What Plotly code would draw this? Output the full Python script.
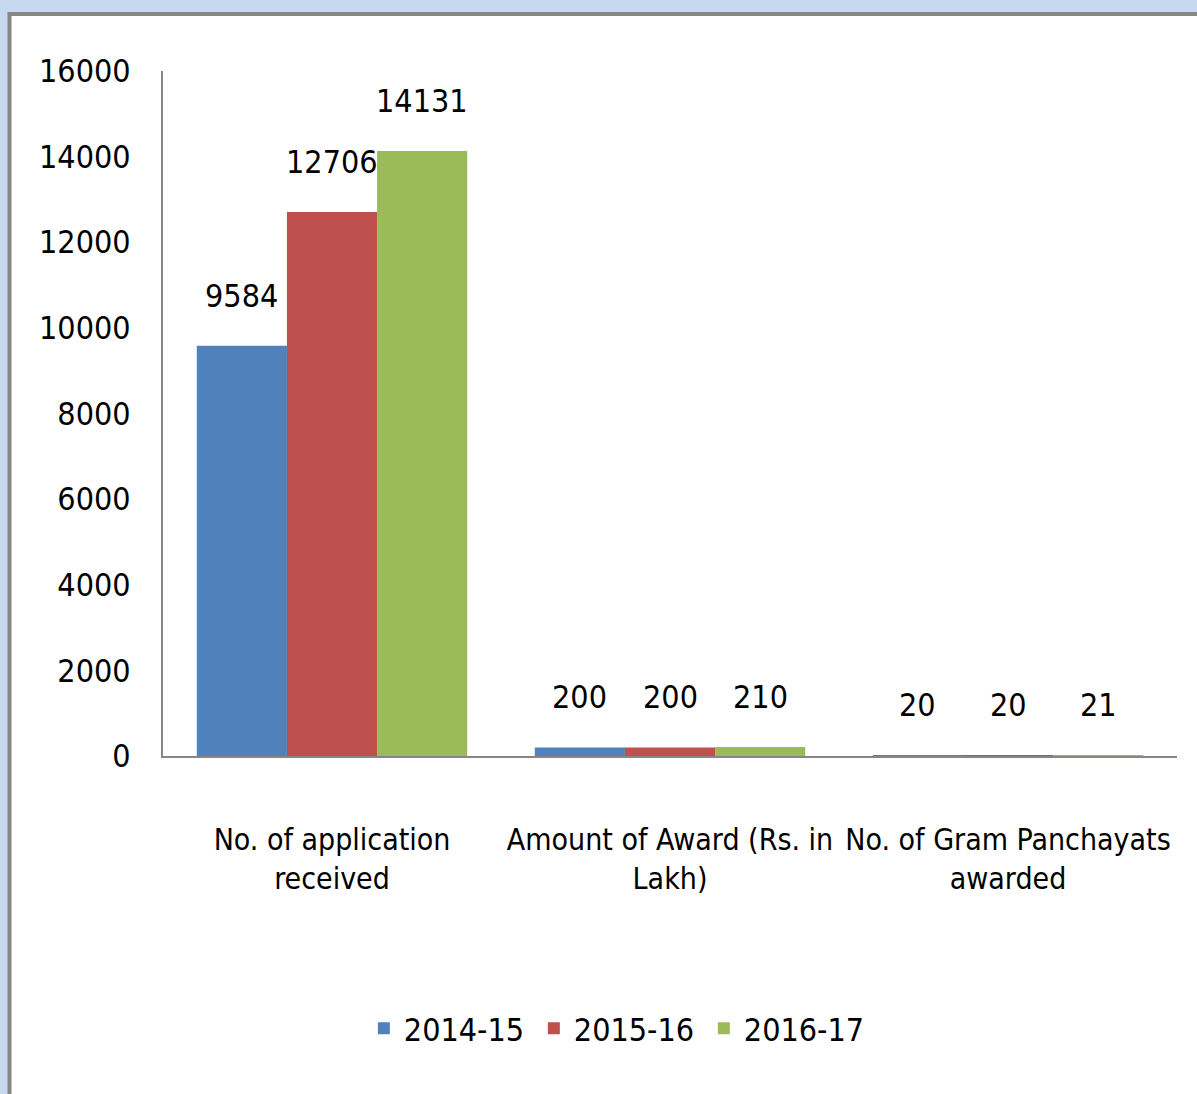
import plotly.graph_objects as go

categories = ["No. of application received",
              "Amount of Award (Rs. in Lakh)",
              "No. of Gram Panchayats awarded"]
tick_labels = ["No. of application<br>received",
               "Amount of Award (Rs. in<br>Lakh)",
               "No. of Gram Panchayats<br>awarded"]
series_names = ["2014-15", "2015-16", "2016-17"]
values_2014_15 = [9584, 200, 20]
values_2015_16 = [12706, 200, 20]
values_2016_17 = [14131, 210, 21]
series_values = [values_2014_15, values_2015_16, values_2016_17]
colors = ["#4F81BD", "#C0504D", "#9BBB59"]
y_ticks = [0, 2000, 4000, 6000, 8000, 10000, 12000, 14000, 16000]

FONT = "DejaVu Sans Condensed, DejaVu Sans"
FS = 32

W, H = 1197, 1094
ML, MR, MT, MB = 163, 20, 71, 338
plot_w = W - ML - MR
plot_h = H - MT - MB

fig = go.Figure()
for name, vals, col in zip(series_names, series_values, colors):
    fig.add_trace(go.Bar(name=name, x=list(range(len(categories))), y=vals,
                         marker=dict(color=col, line=dict(width=0))))

bargap = 0.2
bar_w = (1 - bargap) / len(series_names)
font = dict(family=FONT, size=FS, color="#000000")
xfont = dict(family=FONT, size=30, color="#000000")
annotations = []
for i, vals in enumerate(series_values):
    for j, v in enumerate(vals):
        annotations.append(dict(
            x=j + (i - 1) * bar_w, y=v, xref="x", yref="y",
            text=str(v), showarrow=False, yanchor="middle", yshift=50,
            font=font))

def px_to_paper_x(px):
    return (px - ML) / plot_w

def px_to_paper_y(py):
    return (H - MB - py) / plot_h

shapes = [dict(type="rect", xref="paper", yref="paper",
               x0=px_to_paper_x(9.5), x1=px_to_paper_x(1230),
               y0=px_to_paper_y(1130), y1=px_to_paper_y(14),
               fillcolor="white", line=dict(color="#868686", width=4),
               layer="below")]

fig.update_layout(
    width=W, height=H,
    margin=dict(l=ML, r=MR, t=MT, b=MB, pad=0),
    paper_bgcolor="#C6D9F1",
    plot_bgcolor="rgba(0,0,0,0)",
    barmode="group", bargap=bargap, bargroupgap=0,
    font=font,
    shapes=shapes,
    annotations=annotations,
    showlegend=True,
    legend=dict(orientation="h", xref="container", yref="container",
                x=0.517, y=0.06, xanchor="center", yanchor="middle",
                font=font,
                bgcolor="rgba(0,0,0,0)", entrywidth=125, entrywidthmode="pixels",
                itemwidth=30),
    xaxis=dict(tickmode="array", tickvals=list(range(len(categories))),
               ticktext=tick_labels, tickangle=0, tickfont=xfont,
               range=[-0.5, len(categories) - 0.5],
               showline=True, linecolor="#868686", linewidth=2,
               showgrid=False, zeroline=False, ticks="",
               ticklabelstandoff=56),
    yaxis=dict(range=[0, 16000], tickmode="array", tickvals=y_ticks,
               ticktext=[str(t) for t in y_ticks], tickfont=font,
               showline=True, linecolor="#868686", linewidth=2,
               showgrid=False, zeroline=False, ticks="",
               ticklabelstandoff=24),
)

fig.write_html("out.html")
